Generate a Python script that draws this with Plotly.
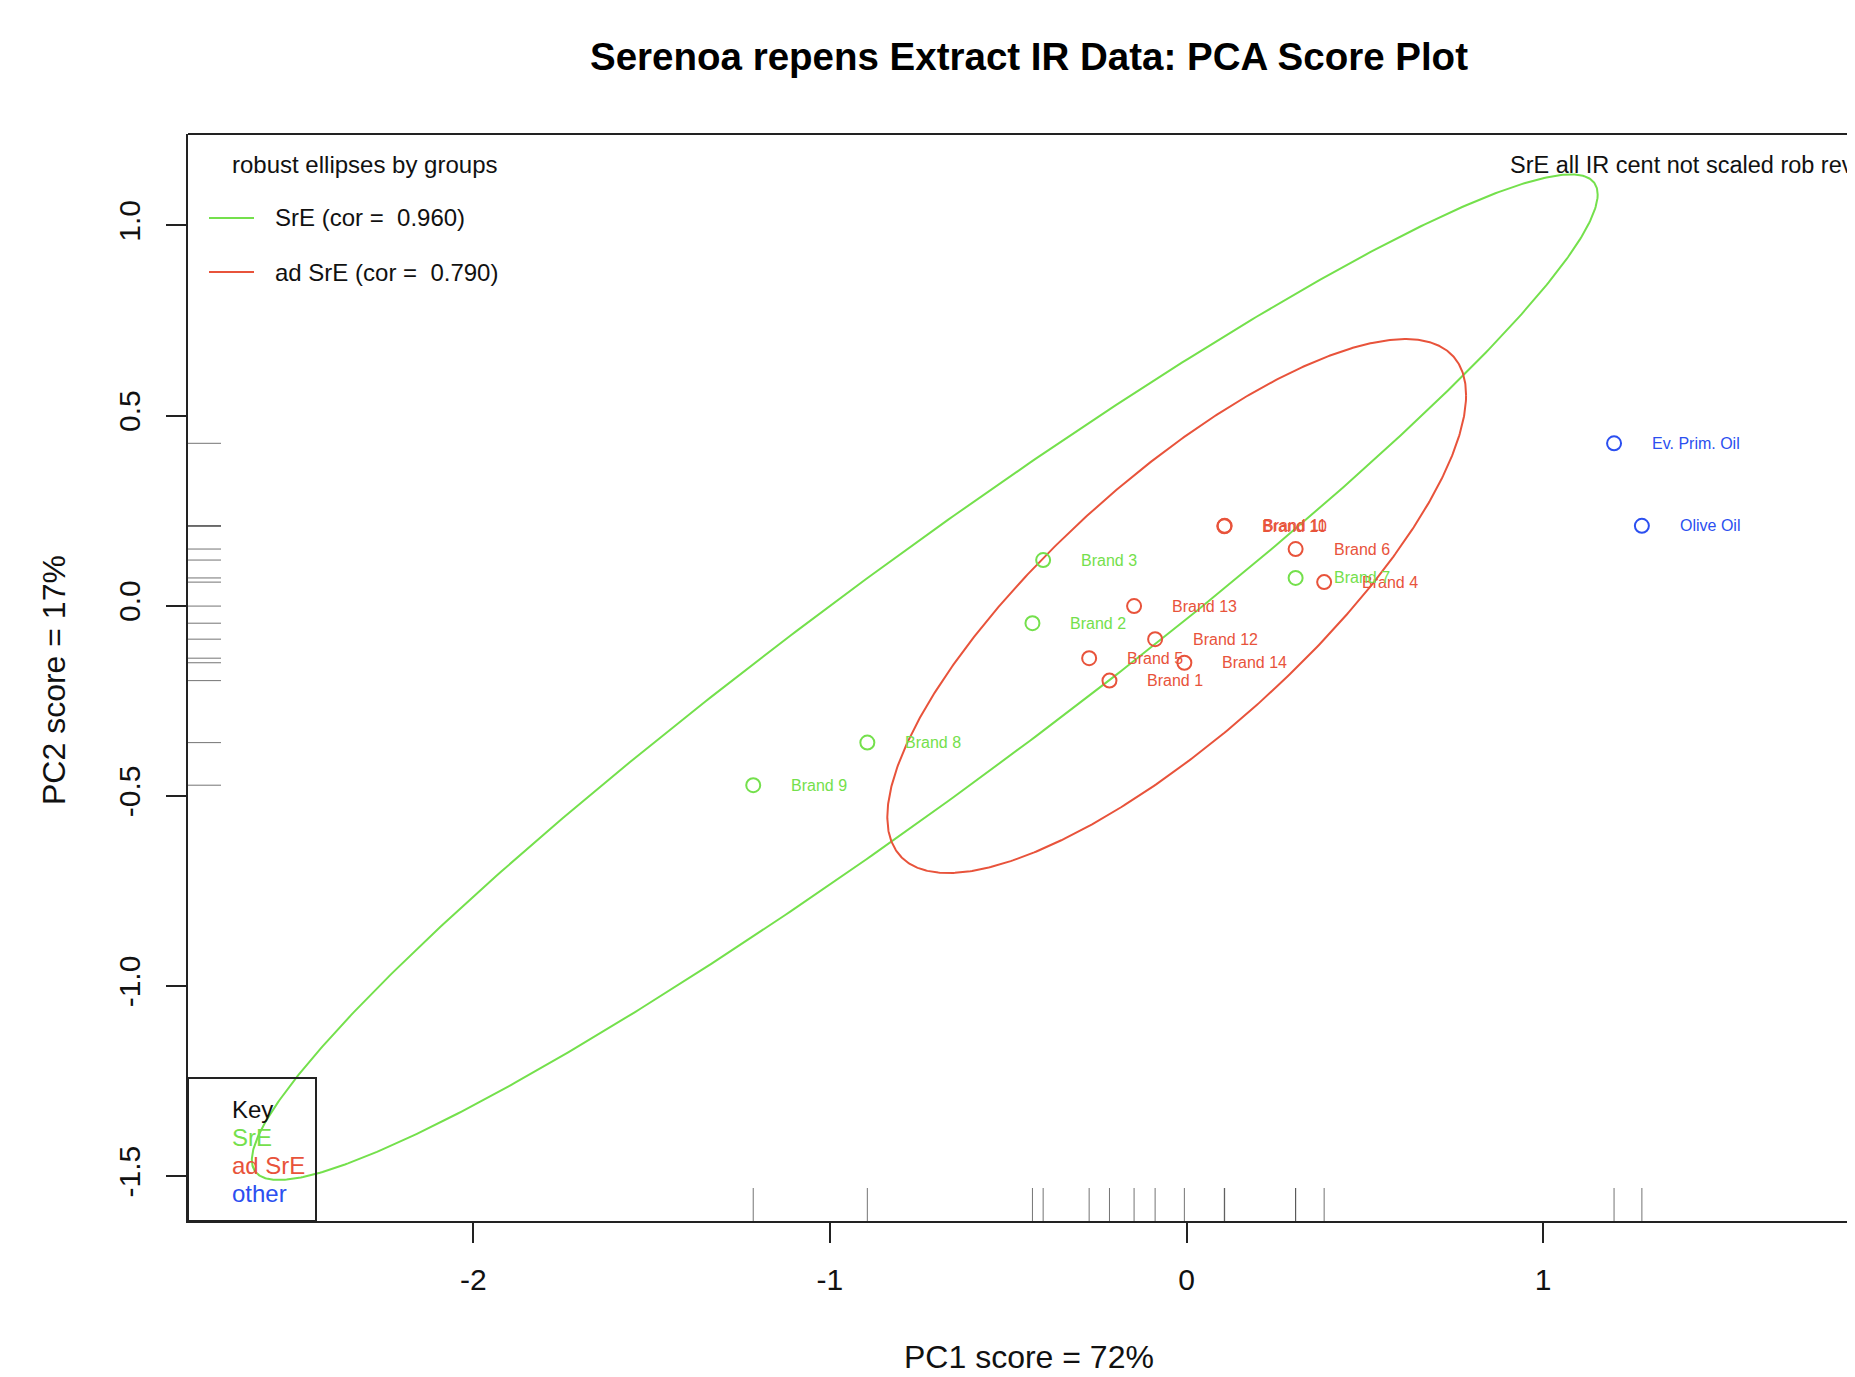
import numpy as np
import plotly.graph_objects as go

# ---------------- data ----------------
labels = ["Brand 1", "Brand 2", "Brand 3", "Brand 4", "Brand 5", "Brand 6", "Brand 7",
          "Brand 8", "Brand 9", "Brand 11", "Brand 10", "Brand 12", "Brand 13", "Brand 14",
          "Ev. Prim. Oil", "Olive Oil"]
pc1 = [-0.216, -0.432, -0.402, 0.386, -0.273, 0.306, 0.306,
       -0.895, -1.215, 0.107, 0.106, -0.088, -0.147, -0.006,
       1.199, 1.277]
pc2 = [-0.197, -0.046, 0.120, 0.062, -0.138, 0.149, 0.073,
       -0.360, -0.472, 0.210, 0.209, -0.088, -0.001, -0.150,
       0.427, 0.210]
groups = ["ad SrE", "SrE", "SrE", "ad SrE", "ad SrE", "ad SrE", "SrE",
          "SrE", "SrE", "ad SrE", "ad SrE", "ad SrE", "ad SrE", "ad SrE",
          "other", "other"]

group_names = ["SrE", "ad SrE", "other"]
group_colors = {"SrE": "#74E04C", "ad SrE": "#E8533B", "other": "#2B4FF0"}

# robust ellipses (center, sd, correlation)
ell_groups = ["SrE", "ad SrE"]
ell_cx = [-0.734, -0.0275]
ell_cy = [-0.188, -0.001]
ell_sx = [1.887, 0.8115]
ell_sy = [1.322, 0.702]
ell_cor = [0.960, 0.790]

x_ticks = [-2, -1, 0, 1]
y_ticks = [-1.5, -1.0, -0.5, 0.0, 0.5, 1.0]

title = "Serenoa repens Extract IR Data: PCA Score Plot"
x_title = "PC1 score = 72%"
y_title = "PC2 score = 17%"

# ---------------- layout geometry (page pixels) ----------------
PAGE_W, PAGE_H = 1855, 1377
OFF = 8                      # default body margin of the html page
W, H = PAGE_W - OFF, PAGE_H - OFF
L, T, B = 188, 134, 1221     # plot area edges, page pixels
FONT = "Liberation Sans, Arial, Helvetica, sans-serif"


def px(xp):
    return (xp - L) / (PAGE_W - L)


def py(yp):
    return (B - yp) / (B - T)


fig = go.Figure()

# ellipses
t = np.linspace(0, 2 * np.pi, 721)
for g, cx, cy, sx, sy, r in zip(ell_groups, ell_cx, ell_cy, ell_sx, ell_sy, ell_cor):
    ex = cx + sx * np.cos(t)
    ey = cy + sy * (r * np.cos(t) + np.sqrt(1 - r * r) * np.sin(t))
    fig.add_trace(go.Scatter(x=ex, y=ey, mode="lines",
                             line=dict(color=group_colors[g], width=2),
                             hoverinfo="skip", showlegend=False))

# points
for g in group_names:
    xs = [x for x, gg in zip(pc1, groups) if gg == g]
    ys = [y for y, gg in zip(pc2, groups) if gg == g]
    fig.add_trace(go.Scatter(x=xs, y=ys, mode="markers", name=g,
                             marker=dict(symbol="circle-open", size=14,
                                         color=group_colors[g],
                                         line=dict(width=2, color=group_colors[g])),
                             showlegend=False))

annotations = []
# point labels
for lab, x, y, g in zip(labels, pc1, pc2, groups):
    annotations.append(dict(x=x, y=y, xref="x", yref="y", text=lab, showarrow=False,
                            xanchor="left", yanchor="middle", xshift=36,
                            font=dict(family=FONT, size=16, color=group_colors[g])))

shapes = []
# rugs
rug_col = "rgba(70,70,70,0.75)"
for x in pc1:
    shapes.append(dict(type="line", xref="x", yref="paper", x0=x, x1=x,
                       y0=0, y1=33 / (B - T), line=dict(color=rug_col, width=1)))
for y in pc2:
    shapes.append(dict(type="line", xref="paper", yref="y", x0=0, x1=33 / (PAGE_W - L),
                       y0=y, y1=y, line=dict(color=rug_col, width=1)))

# top border of the box
shapes.append(dict(type="line", xref="paper", yref="paper", x0=0, x1=1.01, y0=1, y1=1,
                   line=dict(color="#222", width=2)))

# legend for ellipses (top left)
annotations.append(dict(x=px(230), y=py(165), xref="paper", yref="paper",
                        text="robust ellipses by groups", showarrow=False,
                        xanchor="left", yanchor="middle",
                        font=dict(family=FONT, size=24, color="#111")))
for i, (g, r) in enumerate(zip(ell_groups, ell_cor)):
    yy = 218 + i * 54
    shapes.append(dict(type="line", xref="paper", yref="paper",
                       x0=px(209), x1=px(254), y0=py(yy), y1=py(yy),
                       line=dict(color=group_colors[g], width=2)))
    annotations.append(dict(x=px(273), y=py(yy), xref="paper", yref="paper",
                            text=f"{g} (cor =  {r:.3f})", showarrow=False,
                            xanchor="left", yanchor="middle",
                            font=dict(family=FONT, size=24, color="#111")))

# right top note (clipped by page)
annotations.append(dict(x=px(1508), y=py(165), xref="paper", yref="paper",
                        text="SrE all IR cent not scaled rob rev", showarrow=False,
                        xanchor="left", yanchor="middle",
                        font=dict(family=FONT, size=23.5, color="#111")))

# key box (bottom left)
shapes.append(dict(type="rect", xref="paper", yref="paper", x0=0, x1=px(316),
                   y0=0, y1=py(1078), line=dict(color="#222", width=2)))
key_items = ["Key"] + group_names
key_cols = ["#111"] + [group_colors[g] for g in group_names]
for i, (k, c) in enumerate(zip(key_items, key_cols)):
    annotations.append(dict(x=px(230), y=py(1109 + i * 28.2), xref="paper", yref="paper",
                            text=k, showarrow=False, xanchor="left", yanchor="middle",
                            font=dict(family=FONT, size=24, color=c)))

# axis titles
annotations.append(dict(x=px(1029), y=py(1357), xref="paper", yref="paper",
                        text=x_title, showarrow=False, xanchor="center", yanchor="middle",
                        font=dict(family=FONT, size=32, color="#111")))
annotations.append(dict(x=px(54), y=py(680), xref="paper", yref="paper",
                        text=y_title, showarrow=False, xanchor="center", yanchor="middle",
                        textangle=-90,
                        font=dict(family=FONT, size=32, color="#111")))

x0 = (L - 1186.5) / 356.6
x1 = (PAGE_W - 1186.5) / 356.6
y1 = (605.7 - T) / 380.3
y0 = (605.7 - B) / 380.3

fig.update_layout(
    width=W, height=H,
    margin=dict(l=L - OFF, r=0, t=T - OFF, b=(H + OFF) - B, pad=0),
    plot_bgcolor="white", paper_bgcolor="white",
    title=dict(text=f"<b>{title}</b>", x=(1029 - OFF) / W, y=1 - (57 - OFF) / H,
               xanchor="center", yanchor="middle",
               font=dict(family=FONT, size=38.5, color="#000")),
    xaxis=dict(range=[x0, x1], tickvals=x_ticks, ticktext=[str(v) for v in x_ticks],
               showgrid=False, zeroline=False, showline=True, linecolor="#222",
               linewidth=2, ticks="outside", ticklen=20, tickwidth=2, tickcolor="#222",
               ticklabelstandoff=11,
               tickfont=dict(family=FONT, size=30, color="#111")),
    yaxis=dict(range=[y0, y1], tickvals=y_ticks, ticktext=[f"{v:.1f}" for v in y_ticks],
               showgrid=False, zeroline=False, showline=True, linecolor="#222",
               linewidth=2, ticks="outside", ticklen=20, tickwidth=2, tickcolor="#222",
               tickangle=-90, ticklabelstandoff=14,
               tickfont=dict(family=FONT, size=30, color="#111")),
    shapes=shapes,
    annotations=annotations,
    showlegend=False,
)

fig.write_html("out.html")
